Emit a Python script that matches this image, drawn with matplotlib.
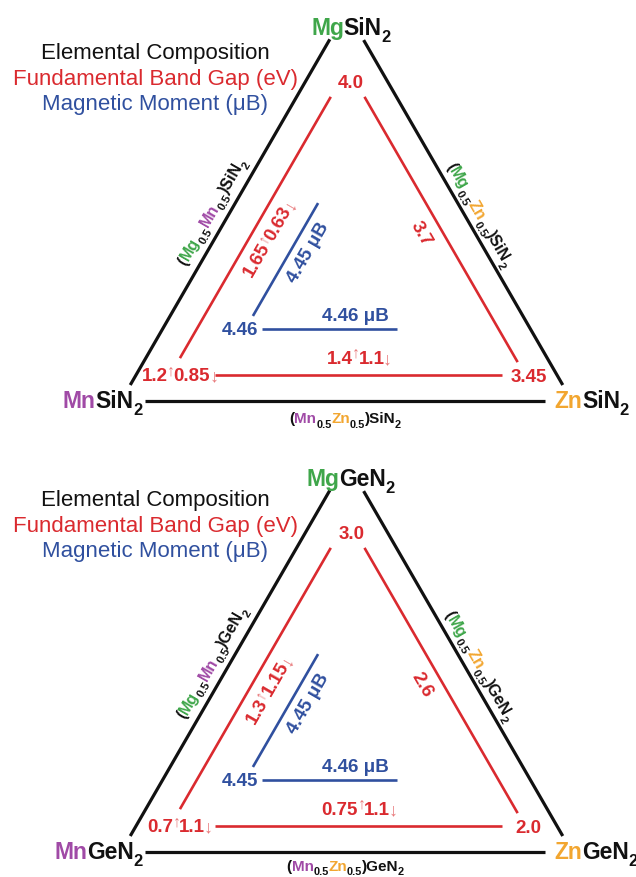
import numpy as np
import matplotlib
matplotlib.use('Agg')
import matplotlib.pyplot as plt

plt.rcParams['font.family'] = ['Liberation Sans', 'DejaVu Sans']

# ---- data (one entry per panel: SiN2, GeN2) ----
anions = ['Si', 'Ge']
gap_mg = ['4.0', '3.0']
gap_zn = ['3.45', '2.0']
gap_mn_up = ['1.2', '0.7']
gap_mn_dn = ['0.85', '1.1']
gap_mgzn = ['3.7', '2.6']
gap_mgmn_up = ['1.65', '1.3']
gap_mgmn_dn = ['0.63', '1.15']
gap_mnzn_up = ['1.4', '0.75']
gap_mnzn_dn = ['1.1', '1.1']
mom_mn = ['4.46', '4.45']
mom_mgmn = ['4.45', '4.45']
mom_mnzn = ['4.46', '4.46']
legend_lines = ['Elemental Composition', 'Fundamental Band Gap (eV)', 'Magnetic Moment (\u03bcB)']

BLACK = '#111111'
RED = '#DA2A2F'
ARROW = '#E8787A'
BLUE = '#30509F'
GREEN = '#3FA64A'
PURPLE = '#A04AA6'
ORANGE = '#F2A630'

fig = plt.figure(figsize=(6.36, 8.77), dpi=100)
renderer = fig.canvas.get_renderer()


def text_width(ax, s, size, weight):
    # advance width in points: W(s+s) - W(s) removes the bbox overhead
    t = ax.text(0, 0, s, fontsize=size, weight=weight)
    w1 = t.get_window_extent(renderer).width
    t.set_text(s + s)
    w2 = t.get_window_extent(renderer).width
    t.remove()
    return (w2 - w1) * 72 / fig.dpi


def rich_text(ax, x, y, pieces, size, angle=0, align='center', weight='bold'):
    # pieces: (text, color, kind) kind: n normal, b subscript, p up arrow, d down arrow
    # styles: size factor, baseline shift, weight, advance factor, tracking
    styles = {'n': (1.0, 0.0, weight, 1.0, -0.02), 'b': (0.72, -0.30, weight, 1.0, -0.02),
              'p': (0.85, 0.30, 'normal', 0.75, 0.0), 'd': (0.95, -0.04, 'normal', 0.75, 0.0)}
    widths = []
    for s, c, k in pieces:
        sc, dy, w, adv, trk = styles[k]
        widths.append(text_width(ax, s, size * sc, w) * adv + trk * size)
    total = sum(widths)
    th = np.radians(angle)
    ux, uy = np.cos(th), np.sin(th)
    vx, vy = -np.sin(th), np.cos(th)
    pos = {'center': -total / 2, 'left': 0.0, 'right': -total}[align]
    base = -0.36 * size
    for (s, c, k), wd in zip(pieces, widths):
        sc, dy, w, adv, trk = styles[k]
        off = base + dy * size
        ax.annotate(s, (x, y), xytext=(pos * ux + off * vx, pos * uy + off * vy),
                    textcoords='offset points', fontsize=size * sc, color=c,
                    weight=w, rotation=angle, rotation_mode='anchor',
                    ha='left', va='baseline')
        pos += wd


def seg(ax, p, q, t0, t1, color, lw):
    p, q = np.array(p), np.array(q)
    a = p + t0 * (q - p)
    b = p + t1 * (q - p)
    ax.plot([a[0], b[0]], [a[1], b[1]], color=color, lw=lw, solid_capstyle='butt')


def draw_panel(ax, i, legend_y, bottom_label_y):
    an = anions[i]
    h = np.sqrt(3) / 2
    A, B, C = (0, 0), (1, 0), (0.5, h)
    seg(ax, A, C, 0.041, 0.926, BLACK, 2.3)
    seg(ax, B, C, 0.041, 0.924, BLACK, 2.3)
    seg(ax, A, B, 0.053, 0.940, BLACK, 2.3)

    s = 0.787
    RA, RB = (0.109, 0.0576), (0.109 + s, 0.0576)
    RC = (0.109 + s / 2, 0.0576 + s * h)
    seg(ax, RA, RB, 0.126, 0.935, RED, 1.9)
    seg(ax, RA, RC, 0.055, 0.905, RED, 1.9)
    seg(ax, RB, RC, 0.042, 0.905, RED, 1.9)

    P = (0.276, 0.160)
    seg(ax, P, (1.276, 0.160), 0.0366, 0.336, BLUE, 1.9)
    seg(ax, P, (0.776, 0.160 + h), 0.033, 0.322, BLUE, 1.9)

    # vertex compounds
    rich_text(ax, 0.509, 0.829, [('Mg', GREEN, 'n'), (an + 'N', BLACK, 'n'), ('2', BLACK, 'b')], 16.5)
    rich_text(ax, 0.046, 0.002, [('Mn', PURPLE, 'n'), (an + 'N', BLACK, 'n'), ('2', BLACK, 'b')], 16.5, align='right')
    rich_text(ax, 0.962, 0.002, [('Zn', ORANGE, 'n'), (an + 'N', BLACK, 'n'), ('2', BLACK, 'b')], 16.5, align='left')

    # edge compounds
    rich_text(ax, 0.200, 0.421, [('(', BLACK, 'n'), ('Mg', GREEN, 'n'), ('0.5', BLACK, 'b'),
                                 ('Mn', PURPLE, 'n'), ('0.5', BLACK, 'b'), (')' + an + 'N', BLACK, 'n'),
                                 ('2', BLACK, 'b')], 11.5, angle=60)
    rich_text(ax, 0.796, 0.414, [('(', BLACK, 'n'), ('Mg', GREEN, 'n'), ('0.5', BLACK, 'b'),
                                 ('Zn', ORANGE, 'n'), ('0.5', BLACK, 'b'), (')' + an + 'N', BLACK, 'n'),
                                 ('2', BLACK, 'b')], 11.5, angle=-60)
    rich_text(ax, 0.497, bottom_label_y, [('(', BLACK, 'n'), ('Mn', PURPLE, 'n'), ('0.5', BLACK, 'b'),
                                          ('Zn', ORANGE, 'n'), ('0.5', BLACK, 'b'), (')' + an + 'N', BLACK, 'n'),
                                          ('2', BLACK, 'b')], 11)

    # band gaps
    rich_text(ax, 0.510, 0.708, [(gap_mg[i], RED, 'n')], 13.5)
    rich_text(ax, 0.903, 0.058, [(gap_zn[i], RED, 'n')], 13.5)
    rich_text(ax, 0.128, 0.060, [(gap_mn_up[i], RED, 'n'), ('\u2191', ARROW, 'p'),
                                 (gap_mn_dn[i], RED, 'n'), ('\u2193', ARROW, 'd')], 13.5)
    rich_text(ax, 0.670, 0.373, [(gap_mgzn[i], RED, 'n')], 13.5, angle=-60)
    rich_text(ax, 0.325, 0.361, [(gap_mgmn_up[i], RED, 'n'), ('\u2191', ARROW, 'p'),
                                 (gap_mgmn_dn[i], RED, 'n'), ('\u2193', ARROW, 'd')], 13.5, angle=60)
    rich_text(ax, 0.526, 0.098, [(gap_mnzn_up[i], RED, 'n'), ('\u2191', ARROW, 'p'),
                                 (gap_mnzn_dn[i], RED, 'n'), ('\u2193', ARROW, 'd')], 13.5)

    # magnetic moments
    rich_text(ax, 0.304, 0.161, [(mom_mn[i], BLUE, 'n')], 13.5, align='right')
    rich_text(ax, 0.410, 0.331, [(mom_mgmn[i] + ' \u03bcB', BLUE, 'n')], 13.5, angle=60)
    rich_text(ax, 0.519, 0.193, [(mom_mnzn[i] + ' \u03bcB', BLUE, 'n')], 13.5)

    for txt, col, yy in zip(legend_lines, [BLACK, RED, BLUE], legend_y):
        ax.text(0.0754, yy, txt, color=col, fontsize=16, ha='center', va='center')


ax1 = fig.add_axes([0, 438.5 / 877, 1, 438.5 / 877])
ax1.set_xlim(-0.2683, 1.1419)
ax1.set_ylim(-0.0831, 0.8891)
ax1.axis('off')
draw_panel(ax1, 0, [0.770, 0.712, 0.657], -0.037)

ax2 = fig.add_axes([0, 0, 1, 438.5 / 877])
ax2.set_xlim(-0.2683, 1.1419)
ax2.set_ylim(-0.0554, 0.9169)
ax2.axis('off')
draw_panel(ax2, 1, [0.779, 0.721, 0.666], -0.029)

fig.savefig('out.png', dpi=100)
